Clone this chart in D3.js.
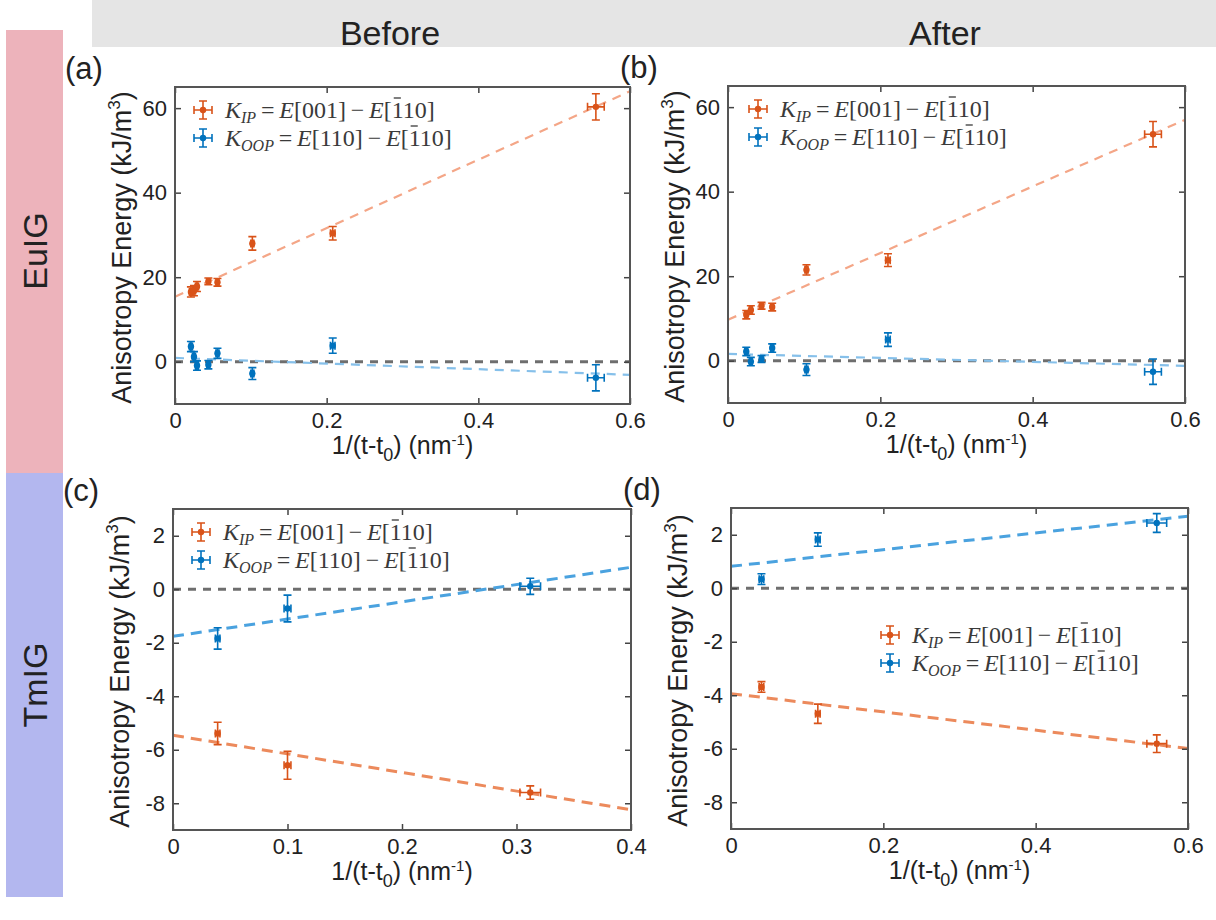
<!DOCTYPE html>
<html>
<head>
<meta charset="utf-8">
<script src="https://cdn.jsdelivr.net/npm/d3@7"></script>
<style>
  body { margin: 0; background: #fff; }
  text { font-family: "Liberation Sans", Arial, sans-serif; fill: #222; }
  .legend text { font-family: "Liberation Serif", "Times New Roman", serif; fill: #3a3a3a; }
</style>
</head>
<body>
<div id="chart"></div>
<script>
// ---- values ----
// (a) EuIG before
const xA = [0.021, 0.025, 0.029, 0.044, 0.056, 0.102, 0.208, 0.555];
const xErrA = [0.002, 0.002, 0.002, 0.002, 0.002, 0.002, 0.003, 0.011];
const kipA = [16.5, 16.8, 17.8, 19.0, 18.8, 28.0, 30.4, 60.3];
const kipErrA = [1.2, 1.2, 1.2, 0.8, 0.9, 1.6, 1.6, 3.1];
const koopA = [3.6, 1.2, -0.9, -0.7, 2.0, -2.8, 3.8, -3.8];
const koopErrA = [1.2, 1.2, 1.1, 1.0, 1.2, 1.4, 1.8, 3.1];
const fitKipA = [15.4, 64.0];   // fit line at left and right edge
const fitKoopA = [0.9, -3.1];

// (b) EuIG after
const xB = [0.024, 0.030, 0.044, 0.058, 0.103, 0.210, 0.558];
const xErrB = [0.002, 0.002, 0.002, 0.002, 0.002, 0.003, 0.011];
const kipB = [10.9, 12.0, 13.0, 12.7, 21.5, 23.8, 53.6];
const kipErrB = [1.0, 1.0, 0.8, 0.9, 1.2, 1.5, 3.0];
const koopB = [2.2, -0.2, 0.4, 3.0, -2.1, 5.0, -2.6];
const koopErrB = [1.0, 1.0, 0.8, 1.0, 1.4, 1.6, 3.0];
const fitKipB = [9.7, 57.0];
const fitKoopB = [1.6, -1.2];

// (c) TmIG before
const xC = [0.039, 0.100, 0.312];
const xErrC = [0.002, 0.003, 0.009];
const kipC = [-5.39, -6.58, -7.6];
const kipErrC = [0.42, 0.52, 0.25];
const koopC = [-1.84, -0.72, 0.11];
const koopErrC = [0.4, 0.5, 0.3];
const fitKipC = [-5.46, -8.24];
const fitKoopC = [-1.76, 0.82];

// (d) TmIG after
const xD = [0.040, 0.114, 0.559];
const xErrD = [0.003, 0.003, 0.013];
const kipD = [-3.69, -4.69, -5.81];
const kipErrD = [0.2, 0.36, 0.33];
const koopD = [0.34, 1.82, 2.44];
const koopErrD = [0.2, 0.25, 0.35];
const fitKipD = [-3.94, -5.99];
const fitKoopD = [0.82, 2.69];

// tick values
const xTicksWide = [0, 0.2, 0.4, 0.6];
const xTicksNarrow = [0, 0.1, 0.2, 0.3, 0.4];
const yTicksEu = [0, 20, 40, 60];
const yTicksTm = [-8, -6, -4, -2, 0, 2];

const columnTitles = ["Before", "After"];
const rowTitles = ["EuIG", "TmIG"];

const ORANGE = "#D95319", BLUE = "#0072BD";

const svg = d3.select("#chart")
  .append("svg")
  .attr("width", 1216)
  .attr("height", 920);

// header band and row bars
svg.append("rect").attr("x", 92).attr("y", 0).attr("width", 1124).attr("height", 47).attr("fill", "#e5e5e5");
svg.append("rect").attr("x", 6).attr("y", 30).attr("width", 57).attr("height", 443).attr("fill", "#edb3bb");
svg.append("rect").attr("x", 6).attr("y", 473).attr("width", 57).attr("height", 424).attr("fill", "#b3b7ef");

[390, 945].forEach((cx, i) => {
  svg.append("text").attr("x", cx).attr("y", 45)
    .attr("text-anchor", "middle").style("font-size", "34px")
    .text(columnTitles[i]);
});
[251, 685].forEach((cy, i) => {
  svg.append("text")
    .attr("transform", `translate(47,${cy}) rotate(-90)`)
    .attr("text-anchor", "middle").style("font-size", "34px")
    .text(rowTitles[i]);
});

const panels = [
  { tag: "(a)", left: 175, right: 630, top: 87, bottom: 404, xMax: 0.6, yDom: [-10, 65],
    xTicks: xTicksWide, yTicks: yTicksEu, x: xA, xErr: xErrA, kip: kipA, kipErr: kipErrA,
    koop: koopA, koopErr: koopErrA, fitKip: fitKipA, fitKoop: fitKoopA,
    legend: [203, 110], thin: true },
  { tag: "(b)", left: 728, right: 1185, top: 86, bottom: 403, xMax: 0.6, yDom: [-10, 65],
    xTicks: xTicksWide, yTicks: yTicksEu, x: xB, xErr: xErrB, kip: kipB, kipErr: kipErrB,
    koop: koopB, koopErr: koopErrB, fitKip: fitKipB, fitKoop: fitKoopB,
    legend: [758, 109], thin: true },
  { tag: "(c)", left: 173, right: 631, top: 509, bottom: 830, xMax: 0.4, yDom: [-9, 3],
    xTicks: xTicksNarrow, yTicks: yTicksTm, x: xC, xErr: xErrC, kip: kipC, kipErr: kipErrC,
    koop: koopC, koopErr: koopErrC, fitKip: fitKipC, fitKoop: fitKoopC,
    legend: [201, 532], thin: false },
  { tag: "(d)", left: 731, right: 1188, top: 508, bottom: 829, xMax: 0.6, yDom: [-9, 3],
    xTicks: xTicksWide, yTicks: yTicksTm, x: xD, xErr: xErrD, kip: kipD, kipErr: kipErrD,
    koop: koopD, koopErr: koopErrD, fitKip: fitKipD, fitKoop: fitKoopD,
    legend: [890, 635], thin: false }
];

panels.forEach(drawPanel);

function drawPanel(p) {
  const x = d3.scaleLinear().domain([0, p.xMax]).range([p.left, p.right]);
  const y = d3.scaleLinear().domain(p.yDom).range([p.bottom, p.top]);
  const g = svg.append("g");
  const fmt = d => String(d);

  // zero line
  g.append("line")
    .attr("x1", x(0)).attr("x2", x(p.xMax)).attr("y1", y(0)).attr("y2", y(0))
    .attr("stroke", "#555").attr("stroke-opacity", 0.85)
    .attr("stroke-width", 3).attr("stroke-dasharray", "8,7");

  // fit lines
  const fits = [
    { v: p.fitKoop, c: p.thin ? "#86c0ea" : "#4aa2df" },
    { v: p.fitKip, c: p.thin ? "#f4a687" : "#ec8a5c" }
  ];
  fits.forEach(f => {
    g.append("line")
      .attr("x1", x(0)).attr("x2", x(p.xMax))
      .attr("y1", y(f.v[0])).attr("y2", y(f.v[1]))
      .attr("stroke", f.c).attr("stroke-width", p.thin ? 2.2 : 3)
      .attr("stroke-dasharray", p.thin ? "9,7" : "11,7");
  });

  // error bars
  const series = [
    { vals: p.kip, err: p.kipErr, c: ORANGE },
    { vals: p.koop, err: p.koopErr, c: BLUE }
  ];
  series.forEach(s => {
    const pts = p.x.map((xv, i) => ({ x: xv, xe: p.xErr[i], y: s.vals[i], ye: s.err[i] }));
    const eg = g.append("g").attr("stroke", s.c).attr("stroke-width", 1.6).attr("fill", "none");
    const cap = 4;
    pts.forEach(d => {
      const cx = x(d.x), cy = y(d.y);
      const y0 = y(d.y - d.ye), y1 = y(d.y + d.ye);
      const x0 = x(d.x - d.xe), x1 = x(d.x + d.xe);
      eg.append("path").attr("d",
        `M${cx},${y0}V${y1}M${cx - cap},${y0}H${cx + cap}M${cx - cap},${y1}H${cx + cap}` +
        `M${x0},${cy}H${x1}M${x0},${cy - cap}V${cy + cap}M${x1},${cy - cap}V${cy + cap}`);
    });
    g.selectAll(null).data(pts).enter().append("circle")
      .attr("cx", d => x(d.x)).attr("cy", d => y(d.y)).attr("r", 3.2)
      .attr("fill", s.c);
  });

  // axes box and ticks
  const axes = [
    { a: d3.axisBottom(x).tickValues(p.xTicks).tickFormat(fmt), t: `translate(0,${p.bottom})` },
    { a: d3.axisTop(x).tickValues(p.xTicks).tickFormat(""), t: `translate(0,${p.top})` },
    { a: d3.axisLeft(y).tickValues(p.yTicks).tickFormat(fmt), t: `translate(${p.left},0)` },
    { a: d3.axisRight(y).tickValues(p.yTicks).tickFormat(""), t: `translate(${p.right},0)` }
  ];
  axes.forEach(ax => {
    const sel = g.append("g").attr("transform", ax.t)
      .call(ax.a.tickSizeInner(-6).tickSizeOuter(0).tickPadding(8));
    sel.select(".domain").remove();
    sel.selectAll("line").attr("stroke", "#444").attr("stroke-width", 1.5);
    sel.selectAll("text").style("font-size", "22px").style("font-family", "Liberation Sans, Arial, sans-serif").attr("fill", "#222");
  });
  g.append("rect")
    .attr("x", p.left).attr("y", p.top)
    .attr("width", p.right - p.left).attr("height", p.bottom - p.top)
    .attr("fill", "none").attr("stroke", "#555").attr("stroke-width", 2);

  // axis labels
  const xl = g.append("text")
    .attr("x", (p.left + p.right) / 2).attr("y", p.bottom + 50)
    .attr("text-anchor", "middle").style("font-size", "25px");
  xl.append("tspan").text("1/(t-t");
  xl.append("tspan").attr("dy", 7).style("font-size", "18px").text("0");
  xl.append("tspan").attr("dy", -7).text(") (nm");
  xl.append("tspan").attr("dy", -9).style("font-size", "15px").text("-1");
  xl.append("tspan").attr("dy", 9).text(")");

  const yl = g.append("text")
    .attr("transform", `translate(${p.left - 44},${(p.top + p.bottom) / 2 + 2}) rotate(-90)`)
    .attr("text-anchor", "middle").style("font-size", "27px");
  yl.append("tspan").text("Anisotropy Energy (kJ/m");
  yl.append("tspan").attr("dy", -11).style("font-size", "17px").text("3");
  yl.append("tspan").attr("dy", 11).text(")");

  // panel tag
  svg.append("text")
    .attr("x", p.left - 110 + (p.tag === "(b)" || p.tag === "(d)" ? 2 : 0))
    .attr("y", p.top - 8)
    .style("font-size", "31px")
    .text(p.tag);

  // legend
  const lg = g.append("g").attr("class", "legend");
  const rows = [
    { c: ORANGE, sub: "IP", mid: "001" },
    { c: BLUE, sub: "OOP", mid: "110" }
  ];
  rows.forEach((r, i) => {
    const lx = p.legend[0], ly = p.legend[1] + i * 28;
    lg.append("path")
      .attr("d", `M${lx},${ly - 9}V${ly + 9}M${lx - 4},${ly - 9}H${lx + 4}M${lx - 4},${ly + 9}H${lx + 4}` +
        `M${lx - 9},${ly}H${lx + 9}M${lx - 9},${ly - 4}V${ly + 4}M${lx + 9},${ly - 4}V${ly + 4}`)
      .attr("stroke", r.c).attr("stroke-width", 1.6).attr("fill", "none");
    lg.append("circle").attr("cx", lx).attr("cy", ly).attr("r", 3.2).attr("fill", r.c);
    const base = ly + 8;
    const t = lg.append("text").attr("x", lx + 22).attr("y", base).style("font-size", "24px");
    t.append("tspan").style("font-style", "italic").text("K");
    t.append("tspan").attr("dy", 5).style("font-style", "italic").style("font-size", "16px").text(r.sub);
    t.append("tspan").attr("dy", -5).text("\u2009=\u2009");
    t.append("tspan").style("font-style", "italic").text("E");
    t.append("tspan").text(`[${r.mid}]\u2009\u2212\u2009`);
    t.append("tspan").style("font-style", "italic").text("E");
    t.append("tspan").text("[110]");
    // bar over the first digit of the last index
    const idx = t.text().lastIndexOf("[") + 1;
    const box = t.node().getExtentOfChar(idx);
    lg.append("line")
      .attr("x1", box.x + 2).attr("x2", box.x + box.width - 2)
      .attr("y1", base - 20).attr("y2", base - 20)
      .attr("stroke", "#3a3a3a").attr("stroke-width", 1.3);
  });
}
</script>
</body>
</html>
